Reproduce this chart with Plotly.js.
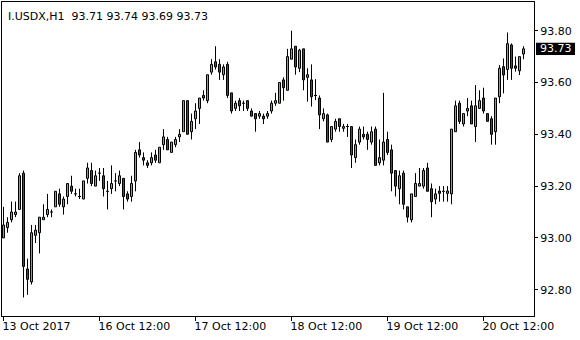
<!DOCTYPE html>
<html>
<head>
<meta charset="utf-8">
<script src="https://cdn.plot.ly/plotly-3.0.1.min.js"></script>
<style>html,body{margin:0;padding:0;background:#fff;}#chart{width:580px;height:340px;}</style>
</head>
<body>
<div id="chart"></div>
<script>
// I.USDX, H1 — hourly bars from 13 Oct 2017 12:00 to 20 Oct 2017
const symbol = "I.USDX,H1";
const openP = [93.00,93.04,93.07,93.09,93.11,93.25,92.88,92.83,93.01,93.02,93.07,93.09,93.10,93.12,93.17,93.12,93.16,93.20,93.17,93.16,93.15,93.23,93.26,93.20,93.25,
93.24,93.18,93.19,93.22,93.21,93.23,93.17,93.16,93.22,93.34,93.31,93.29,93.29,93.32,93.29,93.36,93.38,93.33,93.36,93.39,93.41,93.53,93.41,93.46,
93.50,93.55,93.53,93.64,93.68,93.67,93.63,93.67,93.56,93.50,93.53,93.52,93.53,93.49,93.48,93.47,93.47,93.47,93.49,93.52,93.52,93.61,93.57,93.69,
93.74,93.655,93.73,93.62,93.61,93.55,93.54,93.46,93.475,93.38,93.42,93.46,93.423,93.43,93.43,93.31,93.37,93.40,93.40,93.37,93.42,93.29,93.30,93.38,
93.34,93.26,93.19,93.25,93.12,93.07,93.16,93.20,93.20,93.27,93.19,93.15,93.181,93.18,93.172,93.17,93.41,93.52,93.44,93.49,93.51,93.43,93.50,93.54,
93.48,93.46,93.41,93.545,93.661,93.65,93.745,93.664,93.645,93.71];
const highP = [93.12,93.08,93.14,93.14,93.25,93.26,92.92,93.05,93.05,93.08,93.13,93.17,93.11,93.18,93.19,93.16,93.21,93.24,93.19,93.19,93.22,93.29,93.29,93.26,93.27,
93.27,93.22,93.28,93.25,93.26,93.23,93.18,93.24,93.34,93.37,93.33,93.30,93.33,93.34,93.35,93.42,93.39,93.37,93.39,93.42,93.53,93.53,93.48,93.52,
93.54,93.57,93.63,93.69,93.74,93.69,93.67,93.68,93.56,93.53,93.54,93.53,93.53,93.50,93.48,93.49,93.48,93.49,93.53,93.56,93.60,93.62,93.73,93.80,
93.74,93.73,93.73,93.655,93.67,93.613,93.55,93.50,93.48,93.43,93.46,93.46,93.44,93.44,93.43,93.38,93.43,93.43,93.41,93.43,93.43,93.38,93.56,93.41,
93.36,93.26,93.26,93.26,93.12,93.17,93.25,93.27,93.27,93.29,93.21,93.19,93.20,93.20,93.20,93.42,93.53,93.53,93.48,93.54,93.53,93.59,93.57,93.58,
93.48,93.47,93.54,93.667,93.693,93.793,93.751,93.70,93.70,93.74];
const lowP = [93.00,93.02,93.06,93.08,93.11,92.77,92.78,92.82,92.98,92.94,93.07,93.08,93.08,93.12,93.12,93.09,93.13,93.17,93.16,93.15,93.15,93.21,93.20,93.20,93.22,
93.16,93.11,93.17,93.18,93.20,93.11,93.14,93.14,93.18,93.31,93.28,93.27,93.28,93.29,93.29,93.34,93.34,93.33,93.35,93.37,93.41,93.40,93.38,93.42,
93.44,93.53,93.52,93.63,93.65,93.61,93.61,93.54,93.48,93.49,93.49,93.49,93.49,93.47,93.41,93.46,93.44,93.46,93.48,93.51,93.52,93.53,93.57,93.69,
93.63,93.64,93.57,93.526,93.507,93.532,93.42,93.45,93.37,93.37,93.41,93.41,93.41,93.39,93.27,93.29,93.36,93.38,93.34,93.36,93.28,93.28,93.28,93.32,
93.18,93.16,93.13,93.11,93.06,93.06,93.16,93.20,93.19,93.18,93.08,93.13,93.14,93.14,93.14,93.13,93.41,93.44,93.43,93.47,93.44,93.37,93.50,93.48,
93.45,93.36,93.36,93.52,93.558,93.61,93.61,93.642,93.629,93.69];
const closeP = [93.05,93.06,93.10,93.10,93.24,92.89,92.84,93.02,93.03,93.08,93.08,93.11,93.10,93.18,93.13,93.15,93.21,93.18,93.17,93.16,93.22,93.27,93.21,93.24,93.25,
93.19,93.18,93.21,93.22,93.24,93.16,93.15,93.21,93.33,93.32,93.30,93.28,93.31,93.30,93.35,93.39,93.34,93.37,93.38,93.40,93.53,93.40,93.45,93.49,
93.54,93.54,93.63,93.67,93.66,93.64,93.66,93.55,93.49,93.52,93.51,93.52,93.50,93.47,93.46,93.48,93.46,93.48,93.52,93.53,93.60,93.58,93.70,93.73,
93.66,93.725,93.61,93.63,93.545,93.55,93.475,93.48,93.37,93.43,93.45,93.43,93.43,93.43,93.32,93.36,93.42,93.39,93.38,93.41,93.28,93.31,93.37,93.33,
93.25,93.20,93.24,93.13,93.08,93.17,93.21,93.21,93.26,93.18,93.14,93.17,93.172,93.18,93.181,93.42,93.51,93.45,93.48,93.50,93.44,93.51,93.53,93.49,
93.45,93.40,93.54,93.655,93.629,93.75,93.655,93.655,93.70,93.73];

const tickBars = [0, 24, 48, 72, 96, 120];
const tickLabels = ["13 Oct 2017", "16 Oct 12:00", "17 Oct 12:00", "18 Oct 12:00", "19 Oct 12:00", "20 Oct 12:00"];
const priceTicks = [92.80, 93.00, 93.20, 93.40, 93.60, 93.80];
const lastPrice = 93.73;

const F = "DejaVu Sans";
const BODY_W = 0.5;     // candle body width in bar units (4 px per bar)
const DOJI_W = 0.75;

// Build candle geometry from the OHLC arrays
const upX = [], upBase = [], upH = [];
const dnX = [], dnBase = [], dnH = [];
const wickX = [], wickY = [];
openP.forEach((o, i) => {
  const c = closeP[i];
  const lo = Math.min(o, c), hi = Math.max(o, c);
  if (Math.abs(c - o) < 1e-9) {
    wickX.push(i - DOJI_W / 2, i + DOJI_W / 2, null);
    wickY.push(o, o, null);
  } else if (c > o) {
    upX.push(i); upBase.push(lo); upH.push(hi - lo);
  } else {
    dnX.push(i); dnBase.push(lo); dnH.push(hi - lo);
  }
  if (lowP[i] < lo) { wickX.push(i, i, null); wickY.push(lowP[i], lo, null); }
  if (highP[i] > hi) { wickX.push(i, i, null); wickY.push(hi, highP[i], null); }
});

const traces = [
  {type: "bar", x: upX, base: upBase, y: upH, width: BODY_W,
   marker: {color: "#00ff00", line: {color: "#000", width: 1}},
   hoverinfo: "skip", showlegend: false},
  {type: "bar", x: dnX, base: dnBase, y: dnH, width: BODY_W,
   marker: {color: "#ff0000", line: {color: "#000", width: 1}},
   hoverinfo: "skip", showlegend: false},
  {type: "scatter", mode: "lines", x: wickX, y: wickY, connectgaps: false,
   line: {color: "#000", width: 1}, hoverinfo: "skip", showlegend: false}
];

const yMin = 92.6985, yMax = 93.9108;
const pxPerPrice = 259;

const layout = {
  width: 580, height: 340,
  margin: {l: 2, r: 46, t: 2, b: 24, pad: 0},
  paper_bgcolor: "#fff", plot_bgcolor: "#fff",
  barmode: "overlay",
  showlegend: false,
  font: {family: F, size: 11, color: "#000"},
  xaxis: {
    range: [-0.375, 132.625], fixedrange: true,
    showgrid: false, zeroline: false,
    showline: true, mirror: true, linecolor: "#000", linewidth: 1,
    tickmode: "array", tickvals: tickBars, ticktext: tickLabels,
    ticks: "outside", ticklen: 4, tickcolor: "#000", tickwidth: 1,
    ticklabelposition: "outside right",
    ticklabelshift: -2,
    tickfont: {family: F, size: 11, color: "#000"}
  },
  yaxis: {
    side: "right",
    range: [yMin, yMax], fixedrange: true,
    showgrid: false, zeroline: false,
    showline: true, mirror: true, linecolor: "#000", linewidth: 1,
    tickmode: "array", tickvals: priceTicks, ticktext: priceTicks.map(v => v.toFixed(2)),
    ticks: "outside", ticklen: 3, tickcolor: "#000", tickwidth: 1,
    tickfont: {family: F, size: 11, color: "#000"}
  },
  shapes: [{
    type: "rect", xref: "paper", yref: "y",
    x0: (536 - 2) / 532, x1: (575 - 2) / 532,
    y0: lastPrice - 6.2 / pxPerPrice, y1: lastPrice + 6.2 / pxPerPrice,
    fillcolor: "#000", line: {width: 0}, layer: "above"
  }],
  annotations: [
    {
      xref: "paper", yref: "paper", x: 0, y: 1, xanchor: "left", yanchor: "top",
      xshift: 4, yshift: -6, showarrow: false,
      text: symbol + "\u00a0\u00a0" + [openP[openP.length-1], highP[highP.length-1], lowP[lowP.length-1], closeP[closeP.length-1]].map(v => v.toFixed(2)).join(" "),
      font: {family: F, size: 11, color: "#000"}
    },
    {
      xref: "paper", yref: "y", x: (555.5 - 2) / 532, y: lastPrice,
      xanchor: "center", yanchor: "middle", showarrow: false,
      text: lastPrice.toFixed(2),
      font: {family: F, size: 11, color: "#fff"}
    }
  ]
};

Plotly.newPlot("chart", traces, layout, {staticPlot: true, displayModeBar: false});
</script>
</body>
</html>
